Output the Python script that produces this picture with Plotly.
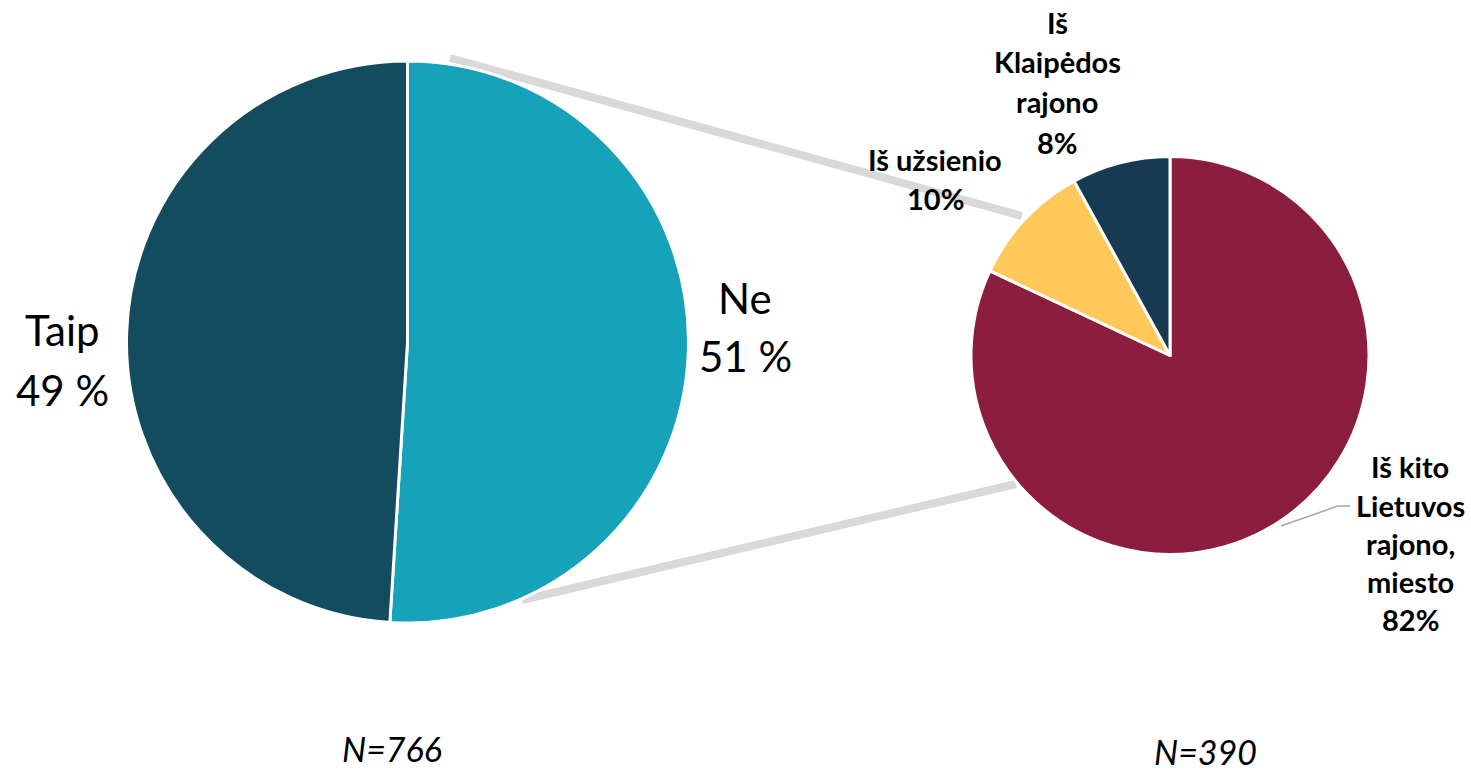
import plotly.graph_objects as go

W, H = 1471, 775

# ---- data ----
left_labels = ["Ne", "Taip"]
left_values = [51, 49]
left_colors = ["#16A3BA", "#134B5F"]
left_n = "N=766"

right_labels = ["Iš kito Lietuvos rajono, miesto", "Iš užsienio", "Iš Klaipėdos rajono"]
right_values = [82, 10, 8]
right_colors = ["#8B1E3F", "#FFC85A", "#163A52"]
right_n = "N=390"


def px(x):
    return x / W


def py(y):
    return 1 - y / H


fig = go.Figure()

fig.add_trace(go.Pie(
    labels=left_labels, values=left_values, sort=False, direction="clockwise", rotation=0,
    marker=dict(colors=left_colors, line=dict(color="white", width=3)),
    textinfo="none", hoverinfo="label+percent", showlegend=False,
    domain=dict(x=[px(126.5), px(688.5)], y=[py(623), py(61)]),
))
fig.add_trace(go.Pie(
    labels=right_labels, values=right_values, sort=False, direction="clockwise", rotation=0,
    marker=dict(colors=right_colors, line=dict(color="white", width=3)),
    textinfo="none", hoverinfo="label+percent", showlegend=False,
    domain=dict(x=[px(971), px(1369)], y=[py(555), py(156)]),
))

shapes = [
    dict(type="line", xref="paper", yref="paper", x0=px(450), y0=py(58), x1=px(1022), y1=py(216),
         line=dict(color="#D9D9D9", width=8), layer="below"),
    dict(type="line", xref="paper", yref="paper", x0=px(522), y0=py(600), x1=px(1016), y1=py(484),
         line=dict(color="#D9D9D9", width=8), layer="below"),
    dict(type="path", xref="paper", yref="paper",
         path=f"M {px(1281)} {py(526)} L {px(1338)} {py(506)} L {px(1350)} {py(506)}",
         line=dict(color="#A6A6A6", width=1.5)),
]

annotations = []


def add_lines(lines, cx, ys, size, bold=False, italic=False):
    for t, y in zip(lines, ys):
        txt = t
        if bold:
            txt = f"<b>{txt}</b>"
        if italic:
            txt = f"<i>{txt}</i>"
        annotations.append(dict(text=txt, x=px(cx), y=py(y), xref="paper", yref="paper",
                                showarrow=False, xanchor="center", yanchor="middle",
                                font=dict(family="Lato", size=size, color="black")))


pct = lambda v: f"{v} %"
add_lines([left_labels[1], pct(left_values[1])], 62, [330, 390], 42)
add_lines([left_labels[0], pct(left_values[0])], 745, [298, 356], 42)

add_lines(["Iš", "Klaipėdos", "rajono", f"{right_values[2]}%"], 1057, [22, 62, 102, 142], 29, bold=True)
add_lines(["Iš užsienio", f"{right_values[1]}%"], 935, [160, 198], 29, bold=True)
add_lines(["Iš kito", "Lietuvos", "rajono,", "miesto", f"{right_values[0]}%"], 1410,
          [467, 505, 543, 581, 619], 29, bold=True)

add_lines([left_n], 392, [748], 34, italic=True)
add_lines([right_n], 1205, [751], 34, italic=True)

fig.update_layout(
    width=W, height=H, margin=dict(l=0, r=0, t=0, b=0),
    paper_bgcolor="white", plot_bgcolor="white",
    shapes=shapes, annotations=annotations,
)

fig.write_html("out.html", config={"displayModeBar": False},
               post_script="document.body.style.margin='0';document.body.style.overflow='hidden';")
